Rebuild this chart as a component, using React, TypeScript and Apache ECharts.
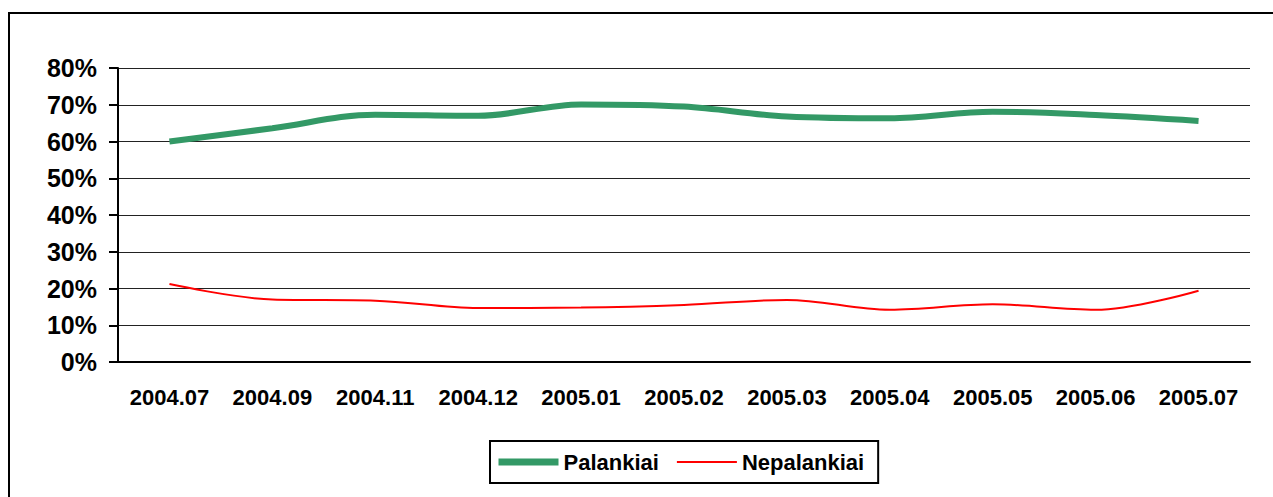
import React, { useEffect, useRef } from "react";
import * as echarts from "echarts";

const categories = [
  "2004.07", "2004.09", "2004.11", "2004.12", "2005.01", "2005.02",
  "2005.03", "2005.04", "2005.05", "2005.06", "2005.07",
];
const palankiai = [60.0, 63.6, 67.3, 67.0, 70.1, 69.5, 66.8, 66.3, 68.1, 67.2, 65.6];
const nepalankiai = [21.2, 17.0, 16.7, 14.7, 14.8, 15.5, 16.9, 14.2, 15.7, 14.2, 19.4];
const seriesNames = ["Palankiai", "Nepalankiai"];

export default function App() {
  const ref = useRef<HTMLDivElement>(null);
  useEffect(() => {
    const chart = echarts.init(ref.current!, null, { renderer: "svg" });
    const font = "Arial, 'Liberation Sans', sans-serif";
    chart.setOption({
      animation: false,
      backgroundColor: "#fff",
      graphic: [
        {
          type: "rect",
          shape: { x: 9, y: 13, width: 1300, height: 600 },
          style: { fill: "none", stroke: "#000", lineWidth: 2 },
          silent: true,
        },
      ],
      grid: { left: 118, right: 23, top: 68, bottom: 135 },
      legend: {
        left: 490,
        top: 441,
        data: [
          { name: seriesNames[0], itemStyle: { opacity: 0 }, lineStyle: { width: 7 } },
          { name: seriesNames[1], itemStyle: { opacity: 0 }, lineStyle: { width: 2 } },
        ],
        itemWidth: 60,
        itemHeight: 14,
        itemGap: 17,
        padding: [10, 14, 10, 5],
        borderColor: "#000",
        borderWidth: 2,
        textStyle: { fontFamily: font, fontWeight: "bold", fontSize: 22, color: "#000" },
      },
      xAxis: {
        type: "category",
        data: categories,
        boundaryGap: true,
        axisLine: { lineStyle: { color: "#000", width: 2 } },
        axisTick: { length: 8, lineStyle: { color: "#000", width: 2 } },
        axisLabel: {
          interval: 0,
          margin: 24,
          fontFamily: font,
          fontWeight: "bold",
          fontSize: 22,
          color: "#000",
        },
        splitLine: { show: false },
      },
      yAxis: {
        type: "value",
        min: 0,
        max: 80,
        interval: 10,
        axisLine: { show: true, lineStyle: { color: "#000", width: 2 } },
        axisTick: { show: true, length: 9, lineStyle: { color: "#000", width: 2 } },
        axisLabel: {
          margin: 21,
          formatter: "{value}%",
          fontFamily: font,
          fontWeight: "bold",
          fontSize: 25,
          color: "#000",
        },
        splitLine: { lineStyle: { color: "#222", width: 1 } },
      },
      series: [
        {
          name: seriesNames[0],
          type: "line",
          data: palankiai,
          smooth: 0.35,
          symbol: "none",
          lineStyle: { color: "#339966", width: 6 },
          itemStyle: { color: "#339966" },
        },
        {
          name: seriesNames[1],
          type: "line",
          data: nepalankiai,
          smooth: 0.35,
          symbol: "none",
          lineStyle: { color: "#ff0000", width: 2 },
          itemStyle: { color: "#ff0000" },
        },
      ],
    });
    return () => chart.dispose();
  }, []);
  return (
    <div
      ref={ref}
      style={{ position: "fixed", left: 0, top: 0, width: 1273, height: 497 }}
    />
  );
}
